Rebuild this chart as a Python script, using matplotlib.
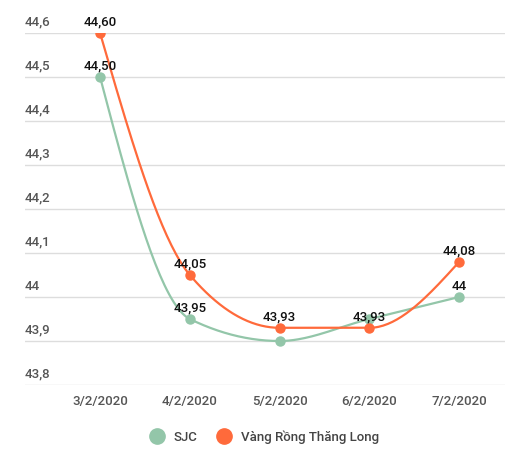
import numpy as np
import matplotlib.pyplot as plt
from matplotlib.lines import Line2D

plt.rcParams['font.family'] = ['Roboto', 'DejaVu Sans']

dates = ['3/2/2020', '4/2/2020', '5/2/2020', '6/2/2020', '7/2/2020']
sjc = [44.50, 43.95, 43.90, 43.95, 44.00]
sjc_labels = ['44,50', '43,95', None, None, '44']
rong = [44.60, 44.05, 43.93, 43.93, 44.08]
rong_labels = ['44,60', '44,05', '43,93', '43,93', '44,08']
yticks = [43.8, 43.9, 44.0, 44.1, 44.2, 44.3, 44.4, 44.5, 44.6]
ytick_labels = ['43,8', '43,9', '44', '44,1', '44,2', '44,3', '44,4', '44,5', '44,6']

green = '#93c6a9'
orange = '#ff6a3b'


def monotone(x, y, n=40):
    # monotone cubic (like d3 curveMonotoneX)
    x = np.asarray(x, float); y = np.asarray(y, float)
    h = np.diff(x); s = np.diff(y) / h
    m = np.zeros(len(x))
    for i in range(1, len(x) - 1):
        if s[i - 1] * s[i] <= 0:
            m[i] = 0
        else:
            p = (s[i - 1] * h[i] + s[i] * h[i - 1]) / (h[i - 1] + h[i])
            m[i] = np.sign(s[i - 1]) * min(abs(s[i - 1]), abs(s[i]), 0.5 * abs(p)) * 2
    m[0] = (3 * s[0] - m[1]) / 2 if len(x) > 2 else s[0]
    m[-1] = (3 * s[-1] - m[-2]) / 2
    xs, ys = [], []
    for i in range(len(x) - 1):
        t = np.linspace(0, 1, n)
        h00 = 2 * t**3 - 3 * t**2 + 1; h10 = t**3 - 2 * t**2 + t
        h01 = -2 * t**3 + 3 * t**2; h11 = t**3 - t**2
        xs.append(x[i] + t * h[i])
        ys.append(h00 * y[i] + h10 * h[i] * m[i] + h01 * y[i + 1] + h11 * h[i] * m[i + 1])
    return np.concatenate(xs), np.concatenate(ys)


fig = plt.figure(figsize=(5.23, 4.59), dpi=100)
ax = fig.add_axes([25 / 523, 1 - 385 / 459, 480 / 523, 352 / 459])
xi = np.arange(len(dates))

for yv, lab in zip(yticks, ytick_labels):
    ax.axhline(yv, color='#dddddd', lw=1, zorder=0)
    ax.text(-0.836, yv + 0.01, lab, ha='left', va='bottom', fontsize=9.5,
            fontweight='medium', color='#555555')

for vals, labs, col in [(sjc, sjc_labels, green), (rong, rong_labels, orange)]:
    sx, sy = monotone(xi, vals)
    ax.plot(sx, sy, color=col, lw=1.6, zorder=2)
    ax.plot(xi, vals, 'o', color=col, ms=6.5, zorder=3)
    for x, v, l in zip(xi, vals, labs):
        if l:
            ax.text(x, v + 0.01, l, ha='center', va='bottom', fontsize=9.5,
                    fontweight='medium', color='#111111', zorder=4)

ax.set_xlim(-0.836, 4.51)
ax.set_ylim(43.8, 44.6)
ax.set_xticks(xi)
ax.set_xticklabels(dates, fontsize=9.5, fontweight='medium', color='#555555')
ax.tick_params(axis='x', length=0, pad=7)
ax.set_yticks([])
for sp in ax.spines.values():
    sp.set_visible(False)
ax.patch.set_alpha(0)

handles = [Line2D([], [], ls='', marker='o', ms=11, color=green),
           Line2D([], [], ls='', marker='o', ms=11, color=orange)]
fig.legend(handles, ['SJC', 'Vàng Rồng Thăng Long'], loc='center', bbox_to_anchor=(0.5, 1 - 437 / 459),
           ncol=2, frameon=False, prop={'size': 9.5, 'weight': 'medium'}, labelcolor='#444444',
           handletextpad=0.3, columnspacing=1.0)

fig.savefig('out.png', dpi=100)
